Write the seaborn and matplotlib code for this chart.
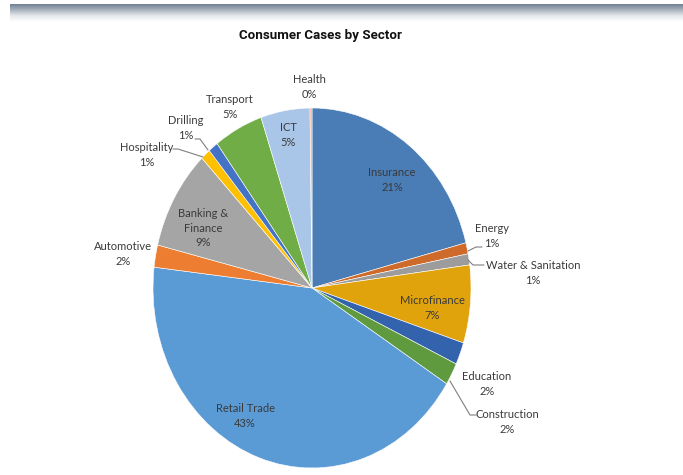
import numpy as np
import matplotlib
matplotlib.use("Agg")
import matplotlib.pyplot as plt
import seaborn as sns

# Share of consumer cases per sector (percent), clockwise from 12 o'clock
sectors = ["Insurance", "Energy", "Water & Sanitation", "Microfinance", "Education",
           "Construction", "Retail Trade", "Automotive", "Banking &\nFinance",
           "Hospitality", "Drilling", "Transport", "ICT", "Health"]
shares = [21.0, 1.0, 1.0, 7.0, 2.0, 2.0, 43.0, 2.0, 9.0, 1.0, 1.0, 5.0, 5.0, 0.2]
colors = ["#4a7db5", "#cf6b2a", "#9c9c9c", "#e0a30c", "#3463ad", "#5f9b3e",
          "#5b9bd5", "#ed7d31", "#a5a5a5", "#ffc000", "#4472c4", "#70ad47",
          "#a9c6e8", "#f2a98a"]

W, H = 683, 475
CX, CY, RX, RY = 312, 288, 159, 180   # pie centre and radii in pixels

sns.set_theme(style="white")
plt.rcParams["font.family"] = ["Lato", "DejaVu Sans"]

fig = plt.figure(figsize=(W / 100, H / 100), dpi=100)
fig.patch.set_facecolor("white")

# grey banner across the top
band = fig.add_axes([10 / W, 1 - 22 / H, 1 - 10 / W, 18 / H])
grad = np.linspace(0, 1, 64)[:, None]
band.imshow(grad, aspect="auto", cmap=matplotlib.colors.LinearSegmentedColormap.from_list(
    "band", ["#66788c", "#a3aeba", "#e4e8eb", "#ffffff"]), extent=[0, 1, 0, 1])
band.axis("off")

fig.text(0.5 * (236 + 405) / W, 1 - 36 / H, "Consumer Cases by Sector",
         ha="center", va="center", fontsize=9.6, fontweight="bold",
         family=["Roboto", "DejaVu Sans"], color="#111111")

ax = fig.add_axes([(CX - RX) / W, (H - CY - RY) / H, 2 * RX / W, 2 * RY / H])
ax.pie(shares, colors=colors, startangle=90, counterclock=False, radius=1,
       wedgeprops=dict(edgecolor="white", linewidth=0.4))
ax.set_aspect("auto")
ax.set_xlim(-1, 1)
ax.set_ylim(-1, 1)
ax.axis("off")


def d(px, py):
    return ((px - CX) / RX, (CY - py) / RY)


# label anchor (pixel) for each sector
label_pos = {
    "Insurance": (392, 180), "Energy": (492, 236), "Water & Sanitation": (533, 273),
    "Microfinance": (432, 308), "Education": (487, 384), "Construction": (507, 422),
    "Retail Trade": (245, 416), "Automotive": (123, 254), "Banking &\nFinance": (203, 228),
    "Hospitality": (147, 155), "Drilling": (186, 128), "Transport": (230, 107),
    "ICT": (288, 135), "Health": (309, 87),
}
total = sum(shares)
for name, val in zip(sectors, shares):
    px, py = label_pos[name]
    ax.text(*d(px, py), f"{name}\n{round(val / total * 100):.0f}%", ha="center",
            va="center", fontsize=8, color="#3a3a3a", linespacing=1.35)

# leader lines for the thin outer slices
leaders = [
    [(195, 139), (200, 139), (208, 150)],
    [(173, 149), (178, 149), (203, 157)],
    [(482, 247), (476, 247), (468, 251)],
    [(468, 260), (473, 265), (484, 265)],
    [(450, 381), (470, 415), (476, 415)],
]
for pts in leaders:
    xs, ys = zip(*[d(*p) for p in pts])
    ax.plot(xs, ys, color="#7f7f7f", lw=0.8, clip_on=False)

fig.savefig("out.png", dpi=100)
